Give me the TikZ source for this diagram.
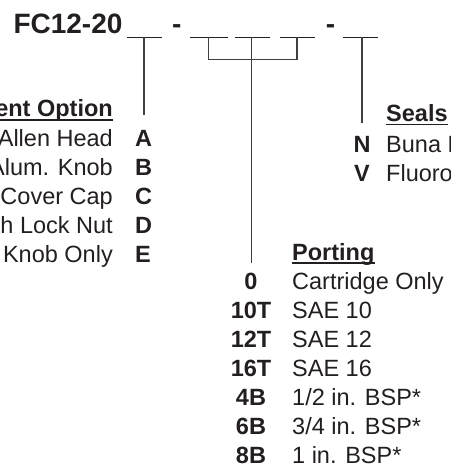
\documentclass[tikz,border=0pt]{standalone}
\usepackage{fontspec}
\setmainfont{Liberation Sans}
\definecolor{ink}{HTML}{231F20}
\definecolor{rule}{HTML}{404040}
\begin{document}
\begin{tikzpicture}[x=1pt,y=-1pt,
  txt/.style={inner sep=0pt, text=ink, font=\fontsize{23.5}{28}\selectfont},
  codetxt/.style={txt, font=\fontsize{23.5}{28}\selectfont\bfseries},
  title/.style={inner sep=0pt, text=ink, font=\fontsize{28}{32}\selectfont\bfseries},
  blank/.style={line width=1.3pt, draw=ink},
  lead/.style={line width=1.3pt, draw=rule},
  uline/.style={line width=1.4pt, draw=ink}]
\useasboundingbox (0,0) rectangle (450,470);
\clip (0,0) rectangle (450,470);

% title
\node[title, anchor=base west] (ttl) at (13.3,33.3) {FC12-20};
\node[title, anchor=base] (d1) at (176.8,33.3) {-};
\node[title, anchor=base] (d2) at (330.5,33.3) {-};

% blanks
\coordinate (b1s) at (127,37.3); \coordinate (b1e) at (162,37.3);
\coordinate (b2s) at (190,37.3); \coordinate (b2e) at (228,37.3);
\coordinate (b3s) at (235,37.3); \coordinate (b3e) at (270,37.3);
\coordinate (b4s) at (280,37.3); \coordinate (b4e) at (315,37.3);
\coordinate (b5s) at (343,37.3); \coordinate (b5e) at (378,37.3);
\foreach \i in {1,...,5} \draw[blank] (b\i s) -- (b\i e);

% leader anchor points
\coordinate (l1) at (144,37.3);
\coordinate (l2) at (208.5,37.3);
\coordinate (l3) at (251.5,37.3);
\coordinate (l4) at (297,37.3);
\coordinate (l5) at (362,37.3);
\coordinate (l1end) at (144,115);
\coordinate (l3end) at (251.5,263);
\coordinate (l5end) at (362,123);
\coordinate (br) at (0,59.5);

\draw[lead] (l1) -- (l1end);
\draw[lead] (l2) -- (l2 |- br) -- (l4 |- br) -- (l4);
\draw[lead] (l3) -- (l3end);
\draw[lead] (l5) -- (l5end);

% Adjustment option
\node[codetxt, anchor=base east] (hA) at (113,117) {Adjustment Option};
\draw[uline] ([yshift=-3pt]hA.base west) -- ([yshift=-3pt]hA.base east);
\foreach \c/\t [count=\k from 0] in {A/Allen Head, B/Alum. Knob, C/Cover Cap, D/Knob with Lock Nut, E/Knob Only}{
  \node[codetxt, anchor=base west] (a\c) at (135,146.5+29*\k) {\c};
  \node[txt, anchor=base east] (ad\c) at (113,146.5+29*\k) {\t};
}

% Seals
\node[codetxt, anchor=base west] (hS) at (386,121.5) {Seals};
\draw[uline] ([yshift=-3pt]hS.base west) -- ([yshift=-3pt]hS.base east);
\node[codetxt, anchor=base] (sN) at (362,153) {N};
\node[txt, anchor=base west] (sNd) at (386,153) {Buna N};
\node[codetxt, anchor=base] (sV) at (362,181.5) {V};
\node[txt, anchor=base west] (sVd) at (386,181.5) {Fluorocarbon};

% Porting
\node[codetxt, anchor=base west] (hP) at (292,260) {Porting};
\draw[uline] ([yshift=-3pt]hP.base west) -- ([yshift=-3pt]hP.base east);
\foreach \c/\t [count=\k from 0] in {0/Cartridge Only, 10T/SAE 10, 12T/SAE 12, 16T/SAE 16, 4B/1\slash 2 in. BSP*, 6B/3\slash 4 in. BSP*, 8B/1 in. BSP*}{
  \node[codetxt, anchor=base] (p\k) at (251,289.5+29*\k) {\c};
  \node[txt, anchor=base west] (pd\k) at (292,289.5+29*\k) {\t};
}
\end{tikzpicture}
\end{document}
